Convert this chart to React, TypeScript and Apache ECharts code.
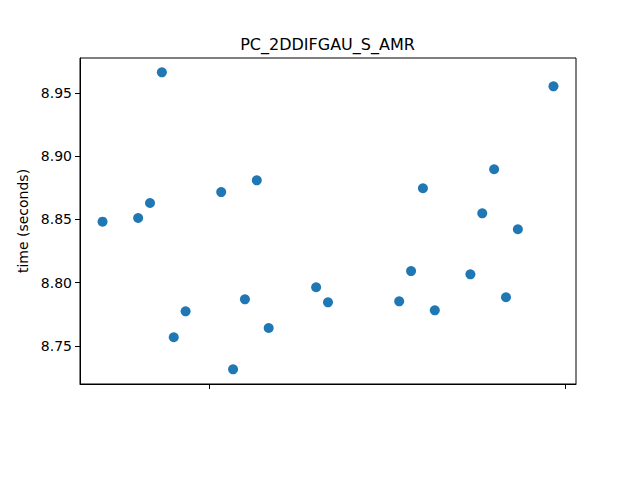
import React, { useEffect, useRef } from "react";
import * as echarts from "echarts";

const xValues = [0, 3, 4, 5, 6, 7, 10, 11, 12, 13, 14, 18, 19, 25, 26, 27, 28, 31, 32, 33, 34, 35, 38];
const timeValues = [
  8.8482, 8.8511, 8.863, 8.9662, 8.7569, 8.7774, 8.8716, 8.7316, 8.7869, 8.8809, 8.7642,
  8.7964, 8.7845, 8.7853, 8.8092, 8.8746, 8.7782, 8.8066, 8.8548, 8.8896, 8.7885, 8.8422, 8.9551,
];
const xTicks = [9, 39];
const yTicks = [8.75, 8.8, 8.85, 8.9, 8.95];
const title = "PC_2DDIFGAU_S_AMR";
const yName = "time (seconds)";

export default function App() {
  const ref = useRef<HTMLDivElement>(null);
  useEffect(() => {
    if (!ref.current) return;
    const chart = echarts.init(ref.current, null, { renderer: "svg" });
    const font = "DejaVu Sans";
    chart.setOption({
      animation: false,
      textStyle: { fontFamily: font },
      graphic: [
        {
          type: "text",
          x: 327.5,
          y: 44,
          style: {
            text: title,
            fontFamily: font,
            fontSize: 16,
            fill: "#000",
            textAlign: "center",
            textVerticalAlign: "middle",
          },
        },
      ],
      grid: {
        left: 80,
        top: 58,
        right: 64,
        bottom: 96,
        show: true,
        borderColor: "#000",
        borderWidth: 1,
        backgroundColor: "#fff",
      },
      xAxis: {
        type: "value",
        min: -1.9,
        max: 39.9,
        axisLine: { show: true, onZero: false, lineStyle: { color: "#000", width: 1 } },
        splitLine: { show: false },
        axisTick: {
          show: true,
          inside: false,
          length: 5,
          lineStyle: { color: "#000" },
          customValues: xTicks,
        },
        axisLabel: { show: false },
      },
      yAxis: {
        type: "value",
        min: 8.72,
        max: 8.9775,
        name: yName,
        nameLocation: "middle",
        nameGap: 46,
        nameTextStyle: { fontFamily: font, fontSize: 14, color: "#000" },
        axisLine: { show: true, onZero: false, lineStyle: { color: "#000", width: 1 } },
        splitLine: { show: false },
        axisTick: {
          show: true,
          inside: false,
          length: 5,
          lineStyle: { color: "#000" },
          customValues: yTicks,
        },
        axisLabel: {
          show: true,
          margin: 8,
          fontFamily: font,
          fontSize: 14,
          color: "#000",
          customValues: yTicks,
          formatter: (v: number) => v.toFixed(2),
        },
      },
      series: [
        {
          type: "scatter",
          data: xValues.map((x, i) => [x, timeValues[i]]),
          symbolSize: 10,
          itemStyle: { color: "#1f77b4", opacity: 1 },
        },
      ],
    });
    return () => chart.dispose();
  }, []);
  return <div ref={ref} style={{ width: 640, height: 480, margin: -8 }} />;
}
